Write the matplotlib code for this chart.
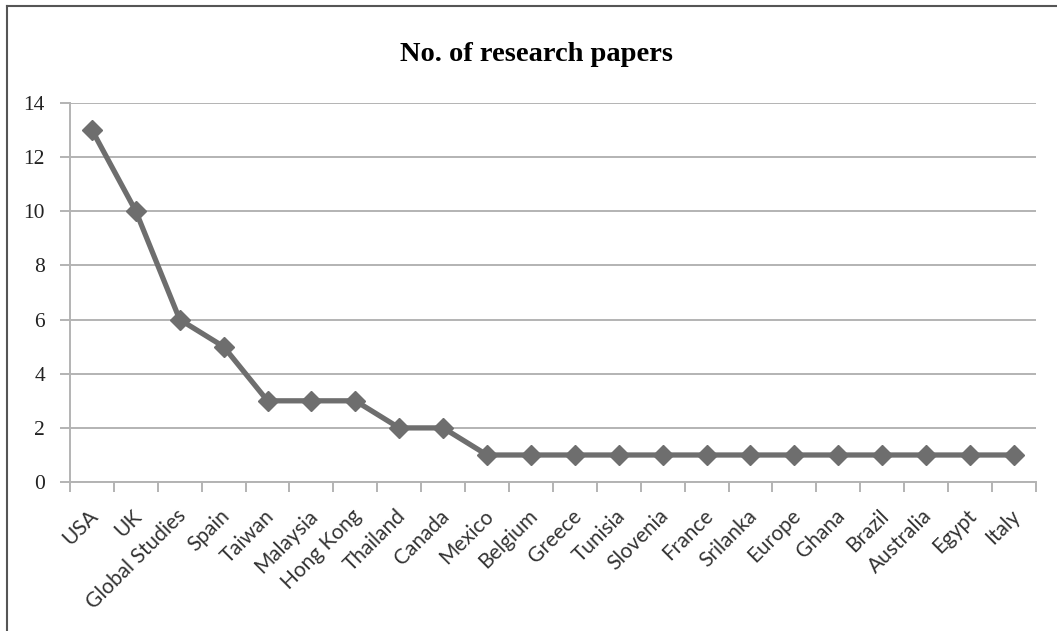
import matplotlib.pyplot as plt
import matplotlib.transforms as mtransforms
from matplotlib.lines import Line2D
import numpy as np

countries = ["USA", "UK", "Global Studies", "Spain", "Taiwan", "Malaysia",
             "Hong Kong", "Thailand", "Canada", "Mexico", "Belgium", "Greece",
             "Tunisia", "Slovenia", "France", "Srilanka", "Europe", "Ghana",
             "Brazil", "Australia", "Egypt", "Italy"]
papers = [13, 10, 6, 5, 3, 3, 3, 2, 2, 1, 1, 1, 1, 1, 1, 1, 1, 1, 1, 1, 1, 1]
y_ticks = [0, 2, 4, 6, 8, 10, 12, 14]

grid_color = "#b3b3b3"
line_color = "#6e6e6e"

fig = plt.figure(figsize=(10.57, 6.31), dpi=100)
ax = fig.add_axes([0.0662, 0.236, 0.9138, 0.601])

x = np.arange(len(countries))
ax.plot(x, papers, color=line_color, linewidth=3.8, marker="D",
        markersize=10, markeredgecolor=line_color, markerfacecolor=line_color,
        zorder=3, clip_on=False)

ax.set_xlim(-0.5, len(countries) - 0.5)
ax.set_ylim(0, 14)

# horizontal gridlines and axis lines in light grey
ax.set_yticks(y_ticks)
ax.yaxis.grid(True, color=grid_color, linewidth=1.4)
ax.set_axisbelow(True)
for side in ["top", "right"]:
    ax.spines[side].set_visible(False)
for side in ["left", "bottom"]:
    ax.spines[side].set_color(grid_color)
    ax.spines[side].set_linewidth(1.4)

ax.tick_params(axis="y", length=7, width=1.4, color=grid_color, pad=11,
               labelsize=15.5, labelcolor="#222222")
for lbl in ax.get_yticklabels():
    lbl.set_fontfamily("Liberation Serif")

# category boundaries get the tick marks, centres get the labels
ax.set_xticks(np.arange(-0.5, len(countries), 1.0))
ax.set_xticklabels([])
ax.tick_params(axis="x", which="major", length=7, width=1.4, color=grid_color)
ax.set_xticks(x, minor=True)
ax.set_xticklabels(countries, minor=True, rotation=45, ha="right",
                   rotation_mode="anchor", fontsize=15, color="#333333",
                   fontfamily="Lato")
ax.tick_params(axis="x", which="minor", length=0, pad=12)
nudge = mtransforms.ScaledTranslation(-4 / 100, -7 / 100, fig.dpi_scale_trans)
for lbl in ax.get_xticklabels(minor=True):
    lbl.set_transform(lbl.get_transform() + nudge)

fig.text(0.508, 0.913, "No. of research papers", ha="center", va="center",
         fontsize=20.5, fontweight="bold", fontfamily="Liberation Serif")

# outer frame (top and left edges)
fig.add_artist(Line2D([7 / 1057, 1.0], [1 - 5.5 / 631] * 2, color="#555555",
                      linewidth=1.5, transform=fig.transFigure))
fig.add_artist(Line2D([7 / 1057] * 2, [0.0, 1 - 5.5 / 631], color="#555555",
                      linewidth=1.5, transform=fig.transFigure))

fig.savefig("out.png", dpi=100)
